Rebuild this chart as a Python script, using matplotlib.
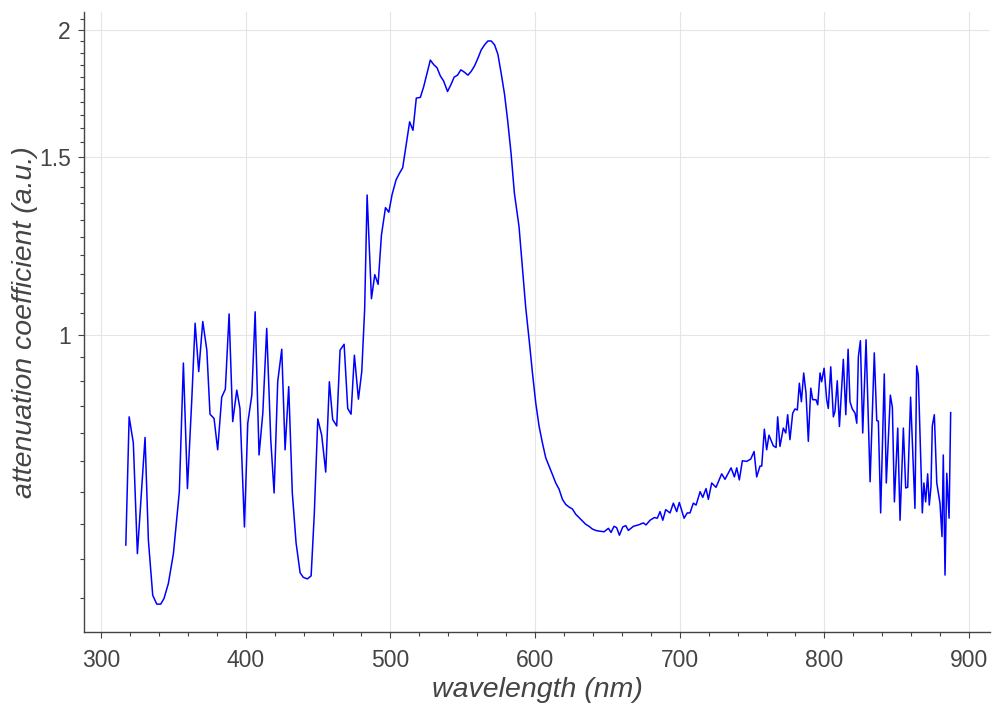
import matplotlib
matplotlib.use("Agg")
import matplotlib.pyplot as plt
import numpy as np
from matplotlib.ticker import FixedLocator, NullFormatter

# Espectro de atenuacion (longitud de onda en nm, coeficiente en u.a.)
longitud_onda = [
    317.1, 319.4, 322.3, 325.1, 330.4, 332.7, 335.7, 338.5, 341.2, 343.5,
    346.5, 350.0, 354.1, 356.9, 359.7, 362.7, 365.0, 367.5, 370.3, 373.1,
    375.3, 378.1, 380.6, 383.4, 385.9, 388.5, 391.0, 393.8, 396.0, 399.1,
    401.4, 404.2, 406.5, 409.2, 411.8, 414.5, 417.3, 419.6, 422.1, 424.9,
    427.2, 429.7, 432.2, 434.8, 437.6, 439.8, 442.6, 445.2, 447.4, 449.8,
    452.5, 455.3, 457.8, 460.1, 462.9, 465.2, 468.0, 470.5, 472.8, 475.1,
    477.9, 480.2, 482.2, 483.9, 486.9, 489.2, 491.5, 493.8, 496.6, 498.9,
    501.1, 503.9, 506.2, 508.5, 510.8, 513.3, 515.6, 517.9, 520.7, 523.0,
    525.3, 527.6, 529.9, 532.2, 534.5, 536.8, 539.5, 541.8, 544.1, 546.4,
    548.7, 551.0, 553.6, 555.9, 558.2, 560.5, 562.8, 565.1, 567.4, 569.7,
    572.0, 574.3, 576.6, 578.9, 581.1, 583.4, 585.7, 588.9, 591.2, 593.5,
    595.9, 598.2, 600.5, 602.8, 605.1, 607.4, 609.7, 612.0, 614.3, 616.6,
    618.9, 621.2, 623.5, 625.8, 628.1, 630.4, 632.7, 635.0, 637.3, 639.6,
    641.9, 644.2, 647.7, 650.7, 652.5, 654.6, 656.4, 658.3, 660.6, 662.7,
    664.5, 668.0, 671.4, 674.9, 676.7, 679.5, 682.5, 684.5, 686.4, 688.3,
    690.3, 693.3, 695.6, 697.9, 699.7, 703.0, 705.2, 707.1, 709.4, 711.3,
    714.1, 715.9, 718.2, 719.8, 722.1, 725.1, 729.0, 731.3, 735.5, 737.8,
    739.4, 741.2, 743.3, 746.3, 749.1, 751.4, 753.2, 755.5, 756.7, 758.5,
    760.1, 761.7, 764.7, 766.6, 767.7, 769.3, 771.6, 773.3, 774.6, 776.2,
    778.1, 779.7, 781.3, 782.7, 784.1, 785.7, 787.3, 788.9, 790.6, 791.9,
    794.2, 795.4, 797.0, 798.1, 799.8, 801.6, 802.7, 804.4, 806.2, 807.3,
    808.9, 810.4, 813.1, 814.8, 816.4, 817.7, 819.3, 821.2, 822.4, 823.5,
    824.9, 826.5, 828.8, 831.6, 834.5, 836.2, 837.3, 838.9, 841.4, 842.8,
    845.6, 847.0, 848.4, 850.7, 852.3, 854.6, 856.2, 857.6, 859.6, 862.6,
    863.8, 864.9, 867.7, 868.8, 870.0, 871.4, 872.5, 873.7, 874.6, 876.0,
    877.7, 879.9, 881.3, 882.2, 883.4, 884.6, 886.2, 887.3,
]

atenuacion = [
    0.620, 0.830, 0.782, 0.608, 0.792, 0.627, 0.553, 0.542, 0.542, 0.549,
    0.568, 0.608, 0.700, 0.938, 0.705, 0.863, 1.027, 0.920, 1.031, 0.966,
    0.835, 0.827, 0.770, 0.868, 0.884, 1.049, 0.821, 0.882, 0.846, 0.646,
    0.818, 0.872, 1.054, 0.761, 0.837, 1.015, 0.788, 0.698, 0.899, 0.968,
    0.770, 0.889, 0.698, 0.623, 0.582, 0.576, 0.574, 0.578, 0.666, 0.826,
    0.796, 0.732, 0.899, 0.825, 0.813, 0.966, 0.979, 0.846, 0.835, 0.955,
    0.864, 0.920, 1.060, 1.375, 1.086, 1.147, 1.122, 1.255, 1.336, 1.322,
    1.375, 1.423, 1.444, 1.463, 1.539, 1.624, 1.593, 1.714, 1.717, 1.759,
    1.813, 1.869, 1.850, 1.837, 1.803, 1.782, 1.740, 1.767, 1.798, 1.806,
    1.828, 1.819, 1.806, 1.822, 1.845, 1.877, 1.913, 1.935, 1.952, 1.952,
    1.935, 1.894, 1.813, 1.729, 1.627, 1.512, 1.381, 1.280, 1.168, 1.066,
    0.989, 0.917, 0.856, 0.812, 0.782, 0.756, 0.742, 0.728, 0.714, 0.704,
    0.688, 0.680, 0.676, 0.673, 0.665, 0.660, 0.655, 0.650, 0.647, 0.643,
    0.641, 0.640, 0.639, 0.644, 0.638, 0.647, 0.645, 0.634, 0.646, 0.648,
    0.641, 0.647, 0.649, 0.652, 0.649, 0.656, 0.660, 0.659, 0.669, 0.656,
    0.672, 0.667, 0.682, 0.669, 0.683, 0.659, 0.667, 0.667, 0.682, 0.679,
    0.700, 0.691, 0.705, 0.688, 0.714, 0.707, 0.729, 0.720, 0.739, 0.724,
    0.739, 0.719, 0.751, 0.750, 0.754, 0.767, 0.724, 0.742, 0.742, 0.807,
    0.770, 0.796, 0.777, 0.774, 0.830, 0.776, 0.809, 0.800, 0.834, 0.788,
    0.837, 0.845, 0.843, 0.896, 0.859, 0.917, 0.876, 0.785, 0.886, 0.863,
    0.863, 0.853, 0.917, 0.899, 0.927, 0.863, 0.846, 0.930, 0.830, 0.840,
    0.901, 0.812, 0.946, 0.834, 0.968, 0.859, 0.845, 0.837, 0.818, 0.952,
    0.987, 0.800, 0.989, 0.716, 0.960, 0.823, 0.822, 0.667, 0.915, 0.714,
    0.872, 0.848, 0.684, 0.809, 0.656, 0.809, 0.706, 0.707, 0.868, 0.674,
    0.932, 0.913, 0.667, 0.714, 0.684, 0.729, 0.679, 0.708, 0.813, 0.834,
    0.714, 0.682, 0.632, 0.761, 0.579, 0.730, 0.659, 0.838,
]

ticks_x = [300, 400, 500, 600, 700, 800, 900]
ticks_y = [1, 1.5, 2]
etiquetas_y = ["1", "1.5", "2"]

gris = "#444444"
plt.rcParams["font.family"] = ["Liberation Sans", "DejaVu Sans"]

fig = plt.figure(figsize=(9.93, 7.07), dpi=100)
ax = fig.add_axes([0.0846, 0.1061, 0.9124, 0.8769])

ax.plot(longitud_onda, atenuacion, color="#0000ff", linewidth=1.1)

ax.set_yscale("log")
ax.set_xlim(288.2, 914.5)
ax.set_ylim(0.5087, 2.085)

ax.xaxis.set_major_locator(FixedLocator(ticks_x))
ax.xaxis.set_minor_locator(FixedLocator(np.arange(300, 920, 20)))
ax.yaxis.set_major_locator(FixedLocator(ticks_y))
ax.yaxis.set_minor_locator(FixedLocator(np.round(np.arange(0.55, 2.1, 0.05), 2)))
ax.yaxis.set_minor_formatter(NullFormatter())
ax.set_yticklabels(etiquetas_y)

ax.grid(True, which="major", color="#e5e5e5", linewidth=0.8)
ax.set_axisbelow(True)

for lado in ("top", "right"):
    ax.spines[lado].set_visible(False)
for lado in ("left", "bottom"):
    ax.spines[lado].set_color(gris)
    ax.spines[lado].set_linewidth(1.0)

ax.tick_params(which="major", direction="out", length=4.5, width=0.8,
               color=gris, labelcolor=gris, labelsize=16.5)
ax.tick_params(axis="x", which="major", pad=8)
ax.tick_params(axis="y", which="major", pad=5)
ax.tick_params(which="minor", direction="out", length=3, width=0.8, color=gris)

ax.set_xlabel("wavelength (nm)", fontsize=20.5, style="italic", color=gris)
ax.set_ylabel("attenuation coefficient (a.u.)", fontsize=20.5, style="italic",
              color=gris)
ax.xaxis.set_label_coords(0.5, -0.072)
ax.yaxis.set_label_coords(-0.051, 0.5)

fig.savefig("out.png", dpi=100)
